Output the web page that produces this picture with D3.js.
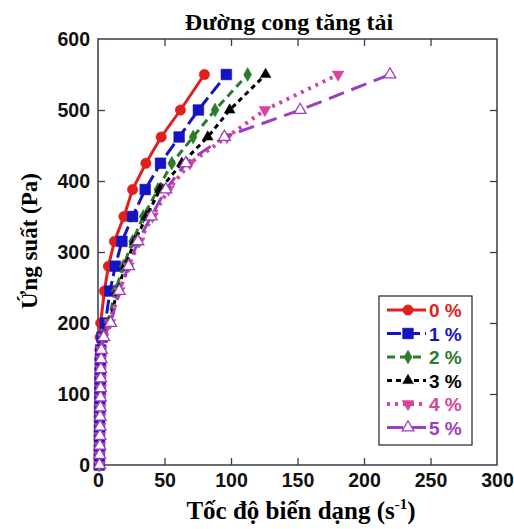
<!DOCTYPE html>
<html>
<head>
<meta charset="utf-8">
<script src="https://cdn.jsdelivr.net/npm/d3@7"></script>
<style>
  body { margin: 0; background: #fff; }
  svg { display: block; }
</style>
</head>
<body>
<div id="root"></div>
<script>
const width = 514;
const height = 529;

// stress levels (Pa), shared by every series
const stress = [0, 14, 27, 41, 54, 68, 81, 95, 108, 122, 135, 149, 162, 180, 200, 245, 280, 315, 350, 388, 425, 462, 500, 550];

// shear rate (1/s) per series
const rate0 = [0.8, 0.8, 0.9, 0.9, 1.0, 1.0, 1.1, 1.1, 1.2, 1.2, 1.3, 1.3, 1.4, 1.6, 2.0, 4.8, 7.8, 12.3, 19.5, 26, 36, 47.5, 62, 80];
const rate1 = [1.0, 1.0, 1.1, 1.1, 1.2, 1.2, 1.3, 1.4, 1.5, 1.6, 1.7, 1.8, 2.0, 3.0, 5.5, 9, 13, 18, 26, 35.5, 47, 61, 75.5, 96.5];
const rate2 = [1.0, 1.1, 1.1, 1.2, 1.3, 1.4, 1.5, 1.6, 1.7, 1.8, 1.9, 2.0, 2.2, 3.5, 7.5, 13, 19, 26, 34, 45, 55.5, 71.5, 88, 112.5];
const rate3 = [1.0, 1.1, 1.2, 1.3, 1.4, 1.5, 1.6, 1.7, 1.8, 1.9, 2.0, 2.1, 2.3, 3.8, 8.5, 14.5, 20.5, 27.5, 36.5, 46.5, 63, 82.5, 99, 126];
const rate4 = [1.2, 1.3, 1.4, 1.5, 1.6, 1.7, 1.8, 1.9, 2.0, 2.1, 2.2, 2.3, 2.5, 4.0, 9, 16, 23, 31, 41, 53, 69, 97, 125.5, 180.5];
const rate5 = [1.2, 1.3, 1.4, 1.5, 1.6, 1.7, 1.8, 1.9, 2.0, 2.1, 2.2, 2.4, 2.6, 4.3, 9.5, 16, 23, 30, 40, 51, 66, 95, 152, 219.5];

const seriesNames = ["0 %", "1 %", "2 %", "3 %", "4 %", "5 %"];
const seriesRates = [rate0, rate1, rate2, rate3, rate4, rate5];

const xTicks = [0, 50, 100, 150, 200, 250, 300];
const yTicks = [0, 100, 200, 300, 400, 500, 600];

const styles = [
  { color: "#e01f1f", dash: null, sym: d3.symbolCircle, size: 85, rot: 0, fill: true, w: 3 },
  { color: "#1414c4", dash: "14,5", sym: d3.symbolSquare, size: 115, rot: 0, fill: true, w: 3 },
  { color: "#2c7c2c", dash: "8,5", sym: d3.symbolDiamond, size: 55, rot: 0, fill: true, w: 3 },
  { color: "#000000", dash: "5,4", sym: d3.symbolTriangle, size: 50, rot: 0, fill: true, w: 3 },
  { color: "#d8449c", dash: "3,5", sym: d3.symbolTriangle, size: 60, rot: 180, fill: true, w: 4 },
  { color: "#9a3ec4", dash: "16,8", sym: d3.symbolTriangle, size: 60, rot: 0, fill: false, w: 3 }
];

const margin = { top: 39, right: 17, bottom: 64, left: 98 };
const innerW = width - margin.left - margin.right;
const innerH = height - margin.top - margin.bottom;

const svg = d3.select("#root").append("svg")
  .attr("width", width)
  .attr("height", height);

const g = svg.append("g")
  .attr("transform", `translate(${margin.left},${margin.top})`);

const x = d3.scaleLinear().domain([0, 300]).range([0, innerW]);
const y = d3.scaleLinear().domain([0, 600]).range([innerH, 0]);

const axisColor = "#3a3a4e";

// axes, ticks pointing inwards
const axBottom = g.append("g")
  .attr("transform", `translate(0,${innerH})`)
  .call(d3.axisBottom(x).tickValues(xTicks).tickSize(-7).tickPadding(8));
const axLeft = g.append("g")
  .call(d3.axisLeft(y).tickValues(yTicks).tickSize(-7).tickPadding(8));
const axTop = g.append("g")
  .call(d3.axisTop(x).tickValues(xTicks.slice(1, -1)).tickSize(-7).tickFormat(""));
const axRight = g.append("g")
  .attr("transform", `translate(${innerW},0)`)
  .call(d3.axisRight(y).tickValues(yTicks.slice(1, -1)).tickSize(-7).tickFormat(""));

[axBottom, axLeft, axTop, axRight].forEach(a => {
  a.select(".domain").remove();
  a.selectAll("line").attr("stroke", axisColor).attr("stroke-width", 1.3);
  a.selectAll("text")
    .attr("font-family", "Liberation Sans, Arial, sans-serif")
    .attr("font-weight", "bold")
    .attr("font-size", "19.5px")
    .attr("fill", "#111");
});
axLeft.selectAll(".tick line").filter(d => d === 0 || d === 600).remove();
axBottom.selectAll(".tick line").filter(d => d === 0 || d === 300).remove();

g.append("rect")
  .attr("width", innerW)
  .attr("height", innerH)
  .attr("fill", "none")
  .attr("stroke", axisColor)
  .attr("stroke-width", 1.5);

// curves
const line = d3.line()
  .x(d => x(d[0]))
  .y(d => y(d[1]));

seriesRates.forEach((rates, i) => {
  const s = styles[i];
  const pts = rates.map((r, j) => [r, stress[j]]);
  const sg = g.append("g");
  sg.append("path")
    .datum(pts)
    .attr("d", line)
    .attr("fill", "none")
    .attr("stroke", s.color)
    .attr("stroke-width", s.w)
    .attr("stroke-dasharray", s.dash);
  sg.selectAll("path.m")
    .data(pts)
    .enter()
    .append("path")
    .attr("class", "m")
    .attr("d", d3.symbol().type(s.sym).size(s.size))
    .attr("transform", d => `translate(${x(d[0])},${y(d[1])}) rotate(${s.rot})`)
    .attr("fill", s.fill ? s.color : "#fff")
    .attr("stroke", s.color)
    .attr("stroke-width", s.fill ? 0.5 : 1.3);
});

// legend
const legend = svg.append("g")
  .attr("transform", "translate(379,296)");
legend.append("rect")
  .attr("width", 93)
  .attr("height", 149)
  .attr("fill", "#fff")
  .attr("stroke", "#222")
  .attr("stroke-width", 1.2);

seriesNames.forEach((name, i) => {
  const s = styles[i];
  const ly = 14 + i * 23.5;
  const item = legend.append("g").attr("transform", `translate(0,${ly})`);
  item.append("line")
    .attr("x1", 8).attr("x2", 47)
    .attr("y1", 0).attr("y2", 0)
    .attr("stroke", s.color)
    .attr("stroke-width", s.w)
    .attr("stroke-dasharray", s.dash);
  item.append("path")
    .attr("d", d3.symbol().type(s.sym).size(s.size))
    .attr("transform", `translate(29,0) rotate(${s.rot})`)
    .attr("fill", s.fill ? s.color : "#fff")
    .attr("stroke", s.color)
    .attr("stroke-width", s.fill ? 0.5 : 1.3);
  item.append("text")
    .attr("x", 50)
    .attr("y", 7)
    .attr("font-family", "Liberation Sans, Arial, sans-serif")
    .attr("font-weight", "bold")
    .attr("font-size", "19px")
    .attr("fill", s.color)
    .text(name);
});

// titles
svg.append("text")
  .attr("x", 289)
  .attr("y", 30)
  .attr("text-anchor", "middle")
  .attr("font-family", "Liberation Serif, Times New Roman, serif")
  .attr("font-weight", "bold")
  .attr("font-size", "24px")
  .text("Đường cong tăng tải");

svg.append("text")
  .attr("transform", "translate(37,241) rotate(-90)")
  .attr("text-anchor", "middle")
  .attr("font-family", "Liberation Serif, Times New Roman, serif")
  .attr("font-weight", "bold")
  .attr("font-size", "23px")
  .text("Ứng suất (Pa)");

const xl = svg.append("text")
  .attr("x", 301)
  .attr("y", 519)
  .attr("text-anchor", "middle")
  .attr("font-family", "Liberation Serif, Times New Roman, serif")
  .attr("font-weight", "bold")
  .attr("font-size", "25px");
xl.append("tspan").text("Tốc độ biến dạng (s");
xl.append("tspan").attr("font-size", "15px").attr("dy", -10).text("-1");
xl.append("tspan").attr("dy", 10).text(")");
</script>
</body>
</html>
